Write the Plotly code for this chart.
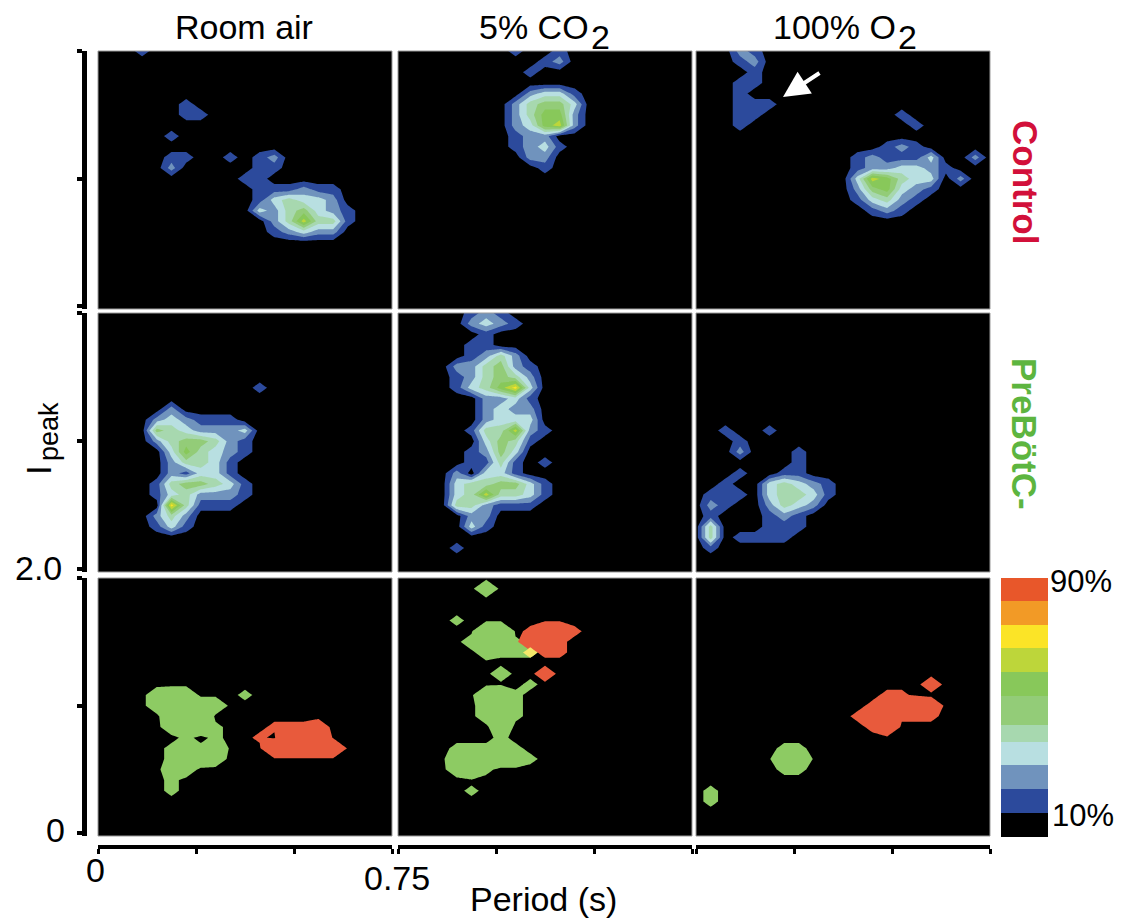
import plotly.graph_objects as go

W, H = 1123, 920
PERIOD_MAX = 0.75
IPEAK_MAX = 2.0
conditions = ["Room air", "5% CO", "100% O"]
groups = ["Control", "PreBötC-"]

# density levels; '.' = below 10 %, digits = contour band
room_air_control = ["...1","","","","",
"......1","......11","",".....1","",
".....11..1.12",".....2.....11","..........11","...........111211","...........134332",
"...........3245321","............247441","............12322"]
co2_control = ["........1..1","..........12",".........1","",".........2331",
"........24553","........24662","........23672","........122","........1231",
".........22","..........1"]
o2_control = ["...21","...12","....1","...11","...1",
"...111","...11.........1","...1...........1","",".............121",
"...........121113..2","...........1223321","...........376433.2","...........256321","...........13421",
"............121"]
room_air_prebot = ["","","","","","","","...........1","",".....2",
"....232111","....5432223","....2455421",".....364321",".....24431",
".....21331","....1455431","....1342221",".....84111","....242","....131"]
co2_prebot = [".....121",".....2321","......1",".....11",".....1242",
"....224521","....124542","....134683","......2231","......2322",
"......2333",".....144721","......3541",".....1253",".....1141.1",
"....2.331","....3445531","....3474431","....442111",".....22",
".....31","","....1"]
o2_prebot = ["","","","","","","","","","","",
"..1..1","...1","...2...1",".......1",
"...1..11","..1..34321",".111.34431",".21..2432",".1...121",
".4...111",".4.1111",".1"]

room_air_green = ["","","","","","","","","","","",
"....233...1","....23333",".....335",".....2231","......1.1",
".....1115",".....1332",".....22",".....1",".....1"]
room_air_red = ["","","","","","","","","","","","","","",
"............1112","...........1.999","............99999"]
co2_green = ["","......3","","","....1",
"......99",".....2321","......2111","",".......2",
".........1","......591","......231","......231",".......3",
".......1","....11111","....333331","....291","",".....1"]
co2_red = ["","","","","",
".........1991",".........331","..........11","","..........2"]
co2_overlap = ["","","","","","","",".........1"]
o2_green = ["","","","","","","","","","","","","","","","",
"......11","......99","......11","",".1",".1"]
o2_red = ["","","","","","","","","","",
"................2",".............11","............19993","...........133111","............15"]

band_colors = ["#000000", "#2C4A9C", "#7093BD", "#B8DFE1", "#A7D8AF", "#93CC78",
               "#88C85A", "#BDD63A", "#FBE427", "#F29A26", "#E8572A"]
band_heights = [24, 23.5, 24, 23, 17, 29, 24, 23.5, 23, 23.5, 23]
GREEN = "#8DCB63"
RED = "#E85A3C"
OVERLAP = "#F4E86A"

PANEL_X = [(98, 392), (398, 692), (696, 990)]
PANEL_Y = [(51, 309), (313, 572), (578, 836)]
N_COLS, N_ROWS = 21, 25


def fx(px):
    return px / W


def fy(py):
    return 1 - py / H


def grid(rows):
    padded = [(r + "." * N_COLS)[:N_COLS] for r in rows] + ["." * N_COLS] * (N_ROWS - len(rows))
    return [[(0 if c == "." else int(c)) + 0.5 for c in r] for r in padded[::-1]]


bands = []
for k, c in enumerate(band_colors):
    bands += [[k / 11, c], [(k + 1) / 11, c]]


def solid(color):
    clear = "rgba(0,0,0,0)"
    return [[0, clear], [0.5, clear], [0.5, color], [1, color]]


fig = go.Figure()
layout = {}


def axes_for(n):
    return ("x" + (str(n) if n > 1 else ""), "y" + (str(n) if n > 1 else ""),
            "xaxis" + (str(n) if n > 1 else ""), "yaxis" + (str(n) if n > 1 else ""))


panels = [
    [[(room_air_control, None)], [(co2_control, None)], [(o2_control, None)]],
    [[(room_air_prebot, None)], [(co2_prebot, None)], [(o2_prebot, None)]],
    [[(room_air_green, GREEN), (room_air_red, RED)],
     [(co2_green, GREEN), (co2_red, RED), (co2_overlap, OVERLAP)],
     [(o2_green, GREEN), (o2_red, RED)]],
]
shapes = []
for r in range(3):
    for c in range(3):
        n = r * 3 + c + 1
        xa, ya, xk, yk = axes_for(n)
        for rows, color in panels[r][c]:
            if color is None:
                fig.add_trace(go.Contour(z=grid(rows), x0=0, dx=PERIOD_MAX / 20, y0=0, dy=IPEAK_MAX / 24,
                                         xaxis=xa, yaxis=ya, colorscale=bands, zmin=0, zmax=11,
                                         autocontour=False, showscale=False, hoverinfo="skip",
                                         contours=dict(start=1, end=10, size=1, coloring="fill"),
                                         line=dict(width=0, smoothing=0)))
            else:
                fig.add_trace(go.Contour(z=grid(rows), x0=0, dx=PERIOD_MAX / 20, y0=0, dy=IPEAK_MAX / 24,
                                         xaxis=xa, yaxis=ya, colorscale=solid(color), zmin=0, zmax=2,
                                         autocontour=False, showscale=False, hoverinfo="skip",
                                         contours=dict(start=1, end=1, size=1, coloring="fill"),
                                         line=dict(width=0, smoothing=0)))
        layout[xk] = dict(domain=[fx(PANEL_X[c][0]), fx(PANEL_X[c][1])], range=[0, PERIOD_MAX],
                          showgrid=False, zeroline=False, showticklabels=False, fixedrange=True)
        layout[yk] = dict(domain=[fy(PANEL_Y[r][1]), fy(PANEL_Y[r][0])], range=[-0.02, IPEAK_MAX],
                          showgrid=False, zeroline=False, showticklabels=False, fixedrange=True)
        if r == 2:
            layout[xk].update(anchor="free", position=fy(847), showline=True, linecolor="black",
                              linewidth=4, ticks="outside", ticklen=5, tickwidth=3, tickcolor="black",
                              tickvals=[0, 0.25, 0.5, 0.75])
        else:
            layout[xk].update(visible=False, anchor=ya)
        if c == 0:
            layout[yk].update(anchor="free", position=fx(83.5), showline=True, linecolor="black",
                              linewidth=5, ticks="outside", ticklen=5, tickwidth=4, tickcolor="black",
                              tickvals=[0, 1, 2])
        else:
            layout[yk].update(visible=False, anchor=xa)
        shapes.append(dict(type="rect", xref="paper", yref="paper",
                           x0=fx(PANEL_X[c][0]), x1=fx(PANEL_X[c][1]),
                           y0=fy(PANEL_Y[r][1]), y1=fy(PANEL_Y[r][0]),
                           line=dict(color="#9a9a9a", width=1), layer="above"))

# colour key
edges = [0]
for h in band_heights:
    edges.append(edges[-1] + h)
fig.add_trace(go.Heatmap(z=[[k + 0.5] for k in range(11)], x=[0, 1], y=edges, colorscale=bands,
                         zmin=0, zmax=11, showscale=False, hoverinfo="skip", xaxis="x10", yaxis="y10"))
layout["xaxis10"] = dict(domain=[fx(1001), fx(1048)], range=[0, 1], visible=False, anchor="y10", fixedrange=True)
layout["yaxis10"] = dict(domain=[fy(837), fy(578)], range=[0, edges[-1]], visible=False, anchor="x10", fixedrange=True)


def label(text, x, y, size=34, color="black", angle=0, bold=False):
    return dict(text=f"<b>{text}</b>" if bold else text, x=fx(x), y=fy(y), xref="paper", yref="paper",
                showarrow=False, xanchor="center", yanchor="middle", textangle=angle,
                font=dict(family="Liberation Sans", size=size, color=color))


annotations = [
    label(conditions[0], 244, 27),
    label(conditions[1], 534, 27),
    label("2", 600, 37),
    label(conditions[2], 834, 27),
    label("2", 907, 37),
    label("Period (s)", 543, 899),
    label("0", 95, 870),
    label("0.75", 397, 878),
    label("0", 55, 830),
    label("2.0", 38, 568),
    label("90%", 1081, 581, 31),
    label("10%", 1083, 815, 31),
    label("I", 38, 470, 35, angle=-90),
    label("peak", 49, 432, 27, angle=-90),
    label(groups[0], 1025, 182, 35, "#D2103A", 90, True),
    label(groups[1], 1025, 434, 35, "#5DB53F", 90, True),
    dict(text="", x=fx(783), y=fy(97), xref="paper", yref="paper", ax=38, ay=-25,
         showarrow=True, arrowcolor="white", arrowwidth=4, arrowhead=2, arrowsize=1.3),
]

fig.update_layout(width=W, height=H, margin=dict(l=0, r=0, t=0, b=0), paper_bgcolor="white",
                  plot_bgcolor="black", showlegend=False, annotations=annotations, shapes=shapes, **layout)
fig.write_html("out.html", post_script="document.body.style.margin='0';document.body.style.overflow='hidden';",
               config=dict(displayModeBar=False))
